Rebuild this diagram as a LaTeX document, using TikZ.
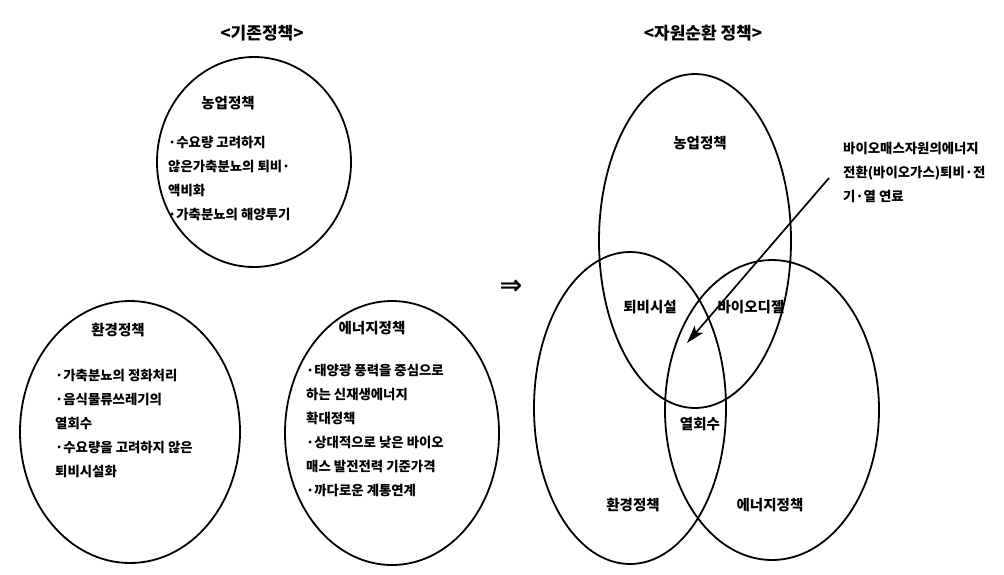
\documentclass[tikz,border=0pt]{standalone}
\usepackage{fontspec}
\setmainfont{Noto Sans CJK KR}
\newfontfamily\symfont{DejaVu Sans}
\usetikzlibrary{shapes.geometric,arrows.meta}
\begin{document}
\begin{tikzpicture}[x=1pt,y=-1pt,
  oval/.style={draw, ellipse, line width=1.8pt, inner sep=0},
  body/.style={font=\fontsize{13.4}{24}\selectfont\bfseries, align=left, anchor=north west, inner sep=0},
  head/.style={font=\fontsize{14.5}{16}\selectfont\bfseries, inner sep=0},
  title/.style={font=\fontsize{17}{19}\selectfont\bfseries, inner sep=0},
  pointer/.style={line width=1.7pt, -{Stealth[length=18pt,width=11pt,inset=4pt]}}
]
\useasboundingbox (0,0) rectangle (1004,574);
% titles
\node[title] (t1) at (262,33) {<기존정책>};
\node[title] (t2) at (703,33) {<자원순환 정책>};
% left: existing policies
\node[oval, minimum width=194pt, minimum height=210pt] (e1) at (254,162) {};
\node[oval, minimum width=220pt, minimum height=262pt] (e2) at (130,432) {};
\node[oval, minimum width=214pt, minimum height=264pt] (e3) at (392,433) {};
\node[head] (h1) at (228,103) {농업정책};
\node[body] (b1) at (168,136) {·수요량 고려하지\\않은가축분뇨의 퇴비·\\액비화\\·가축분뇨의 해양투기};
\node[head] (h2) at (118,330) {환경정책};
\node[body] (b2) at (55,369) {·가축분뇨의 정화처리\\·음식물류쓰레기의\\열회수\\·수요량을 고려하지 않은\\퇴비시설화};
\node[head] (h3) at (372,328) {에너지정책};
\node[body] (b3) at (306,364) {·태양광 풍력을 중심으로\\하는 신재생에너지\\확대정책\\·상대적으로 낮은 바이오\\매스 발전전력 기준가격\\·까다로운 계통연계};
% implies
\node[inner sep=0] (imp) at (511,287) {\symfont\bfseries\fontsize{27}{27}\selectfont ⇒};
% right: resource circulation policy
\node[oval, minimum width=192pt, minimum height=334pt] (v1) at (695,241) {};
\node[oval, minimum width=192pt, minimum height=312pt] (v2) at (630,408) {};
\node[oval, minimum width=214pt, minimum height=300pt] (v3) at (772,410) {};
\node[head] (r1) at (700,143) {농업정책};
\node[head] (r2) at (650,307) {퇴비시설};
\node[head] (r3) at (751,307) {바이오디젤};
\node[head] (r4) at (700,424) {열회수};
\node[head] (r5) at (633,505) {환경정책};
\node[head] (r6) at (770,505) {에너지정책};
\node[body] (note) at (843,142) {바이오매스자원의에너지\\전환(바이오가스)퇴비·전\\기·열 연료};
\coordinate (as) at (829,178);
\coordinate (ae) at (687,343);
\draw[pointer] (as) -- (ae);
\end{tikzpicture}
\end{document}
